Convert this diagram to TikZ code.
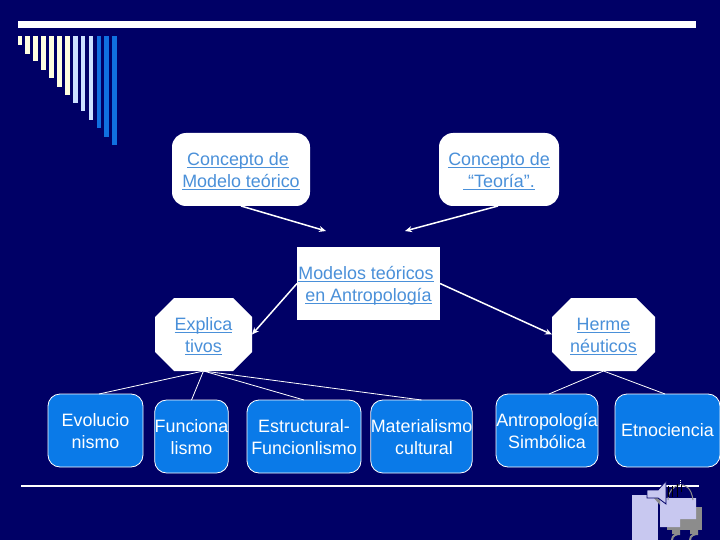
\documentclass[tikz,border=0pt]{standalone}
\usepackage{fontspec}
\setmainfont{Liberation Sans}
\usetikzlibrary{arrows.meta}
\definecolor{bgnavy}{HTML}{000066}
\definecolor{linkblue}{HTML}{4A90D9}
\definecolor{boxblue}{HTML}{0A7AE8}
\definecolor{cream}{HTML}{FFFFE0}
\definecolor{pale}{HTML}{CCE0FF}
\definecolor{barblue}{HTML}{1070E0}
\definecolor{lav}{HTML}{C8C8F0}
\definecolor{icongrey}{HTML}{8C8C8C}
\newcommand\lk[1]{\setbox0=\hbox{#1}\rlap{\rule[-2.6pt]{\wd0}{1.2pt}}\box0}
\def\myH{40.5pt}
\def\myD{4.5pt}
\tikzset{
  x=1pt,y=-1pt,
  txt/.style={font=\fontsize{17.9}{22}\selectfont,align=center,inner sep=0pt,outer sep=0pt,
    execute at begin node={\rule{0pt}{\myH}},execute at end node={\rule[-\myD]{0pt}{\myD}}},
  oneline/.style={/utils/exec={\def\myH{13pt}\def\myD{0pt}}},
  whitebox/.style={txt,fill=white,text=linkblue,rounded corners=14pt},
  plainbox/.style={txt,fill=white,text=linkblue},
  octbox/.style={txt,text=linkblue,path picture={
    \fill[white] ([xshift=19pt]path picture bounding box.north west)
      -- ([xshift=-19pt]path picture bounding box.north east)
      -- ([yshift=-19pt]path picture bounding box.north east)
      -- ([yshift=19pt]path picture bounding box.south east)
      -- ([xshift=-19pt]path picture bounding box.south east)
      -- ([xshift=19pt]path picture bounding box.south west)
      -- ([yshift=19pt]path picture bounding box.south west)
      -- ([yshift=-19pt]path picture bounding box.north west) -- cycle;}},
  bluebox/.style={txt,fill=boxblue,text=white,draw=white,line width=.8pt,rounded corners=12pt},
  arrow/.style={draw=white,line width=1.5pt,-{Stealth[length=7pt,width=6pt]}},
  thin link/.style={draw=white,line width=.8pt},
}
\begin{document}
\begin{tikzpicture}
\useasboundingbox (0,0) rectangle (720,540);
\fill[bgnavy] (0,0) rectangle (720,540);
% top bar and comb
\fill[white] (18,21) rectangle (696,28);
\foreach \a/\b/\c/\col in {18/22/45/cream,25/30/54/cream,33/38/61/cream,41/46/70/cream,49/54/78/cream,57/62/87/cream,65/70/95/cream,73/78/103/pale,81/85/111/pale,89/93/120/pale,97/101/128/barblue,104/109/137/barblue,112/117/145/barblue}
  \fill[\col] (\a,36) rectangle (\b,\c);
% bottom rule
\draw[white,line width=1.4pt] (21,486) -- (699,486);
% upper nodes
\node[whitebox,minimum width=138pt,minimum height=73pt] (c1) at (241,169.5) {\hspace*{-6pt}\lk{Concepto de}\\\lk{Modelo teórico}};
\node[whitebox,minimum width=120pt,minimum height=73pt] (c2) at (499,169.5) {\lk{Concepto de}\\\lk{\ “Teoría”.}};
\node[plainbox,minimum width=143pt,minimum height=73pt] (m) at (368.5,283.5) {\hspace*{-5pt}\lk{Modelos teóricos}\\\lk{en Antropología}};
\node[octbox,minimum width=97pt,minimum height=73pt] (ex) at (203.5,334.5) {\lk{Explica}\\\lk{tivos}};
\node[octbox,minimum width=103pt,minimum height=73pt] (he) at (603.5,334.5) {\lk{Herme}\\\lk{néuticos}};
% lower nodes
\node[bluebox,minimum width=95pt,minimum height=73pt] (ev) at (95.5,430.5) {Evolucio\\nismo};
\node[bluebox,minimum width=73pt,minimum height=73pt] (fu) at (191.5,436.5) {Funciona\\lismo};
\node[bluebox,minimum width=114pt,minimum height=73pt] (es) at (304,436.5) {Estructural-\\Funcionlismo};
\node[bluebox,minimum width=101pt,minimum height=73pt] (ma) at (421.5,436.5) {Materialismo\\\ cultural};
\node[bluebox,minimum width=102pt,minimum height=73pt] (an) at (547,430.5) {Antropología\\Simbólica};
\node[bluebox,oneline,minimum width=105pt,minimum height=73pt] (et) at (667.5,430.5) {Etnociencia};
% free arrow ends
\coordinate (t1) at (326,231);
\coordinate (t2) at (405,231);
\draw[arrow] (c1.south) -- (t1);
\draw[arrow] ([xshift=-1pt]c2.south) -- (t2);
\draw[arrow] (m.west) -- (ex.east);
\draw[arrow] (m.east) -- (he.west);
\draw[thin link] (ex.south) -- ([xshift=3.5pt]ev.north);
\draw[thin link] (ex.south) -- (fu.north);
\draw[thin link] (ex.south) -- (es.north);
\draw[thin link] (ex.south) -- (ma.north);
\draw[thin link] (he.south) -- ([xshift=2pt]an.north);
\draw[thin link] (he.south) -- ([xshift=-2.5pt]et.north);
% corner icon
\fill[lav] (632,495) rectangle (658,540);
\fill[icongrey] (667,507) rectangle (702,530);
\fill[icongrey] (672,530) rectangle (680,534) (690,530) rectangle (698,534);
\draw[icongrey,line width=2pt] (672,540) .. controls (672,535) and (677,534) .. (680,534);
\draw[icongrey,line width=2pt] (690,540) .. controls (690,535) and (695,534) .. (698,534);
\fill[lav] (660,498) -- (696,498) -- (696,519) -- (680,519) -- (680,527) -- (660,527) -- cycle;
\fill[icongrey] (653,497) -- (660,497) -- (660,505) -- cycle;
\draw[icongrey,line width=1pt] (668,500) .. controls (668,484) and (690,476) .. (693,500);
\draw[black,line width=.8pt] (668,486) -- (668,497) (672,486) -- (672,497) (677,484) -- (677,497) (681,485) -- (681,492);
\draw[white,line width=.8pt,densely dotted] (680,480) -- (680,486);
\fill[lav,draw=bgnavy,line width=.8pt] (647,490) -- (658,490) -- (666,481) -- (666,504) -- (658,498) -- (647,498) -- cycle;
\end{tikzpicture}
\end{document}
